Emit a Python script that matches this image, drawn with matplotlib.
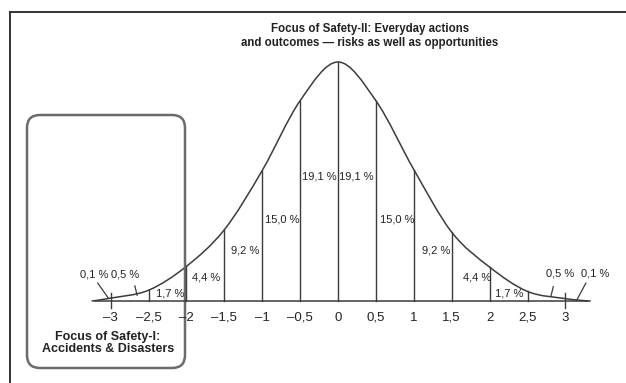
import numpy as np
import matplotlib
matplotlib.use("Agg")
import matplotlib.pyplot as plt
from matplotlib.patches import FancyBboxPatch, PathPatch
from matplotlib.path import Path
from matplotlib.transforms import Affine2D

plt.rcParams['font.family'] = ['Liberation Sans', 'DejaVu Sans']

# ---- data ----
# curve heights (relative to the peak) at these x positions
curve_x = [-3.25, -3, -2.5, -2, -1.5, -1, -0.5, 0, 0.5, 1, 1.5, 2, 2.5, 3, 3.3]
curve_h = [0.0, 0.012, 0.045, 0.145, 0.298, 0.546, 0.838, 1.0, 0.838, 0.55, 0.288, 0.142, 0.04, 0.01, 0.0]
divider_values = [-2.5, -2, -1.5, -1, -0.5, 0, 0.5, 1, 1.5, 2, 2.5]
tick_values = [-3, -2.5, -2, -1.5, -1, -0.5, 0, 0.5, 1, 1.5, 2, 2.5, 3]
tick_labels = ["–3", "–2,5", "–2", "–1,5", "–1", "–0,5", "0", "0,5", "1", "1,5", "2", "2,5", "3"]
band_labels = ["0,1 %", "0,5 %", "1,7 %", "4,4 %", "9,2 %", "15,0 %", "19,1 %",
               "19,1 %", "15,0 %", "9,2 %", "4,4 %", "1,7 %", "0,5 %", "0,1 %"]
band_label_x = [-3.21, -2.81, -2.22, -1.74, -1.23, -0.74, -0.25,
                0.24, 0.78, 1.29, 1.83, 2.26, 2.93, 3.39]
band_label_y = [0.109, 0.109, 0.033, 0.100, 0.213, 0.339, 0.523,
                0.523, 0.339, 0.213, 0.100, 0.033, 0.117, 0.117]
# leader lines for the small tail labels: (label index, from, to)
leaders = [(0, (-3.17, 0.075), (-3.03, 0.012)),
           (1, (-2.68, 0.063), (-2.65, 0.024)),
           (12, (2.84, 0.060), (2.81, 0.021)),
           (13, (3.27, 0.075), (3.15, 0.004))]
title_ii = "Focus of Safety-II: Everyday actions\nand outcomes — risks as well as opportunities"
title_i = "Focus of Safety-I:\nAccidents & Disasters"

W, H = 626, 383
fig = plt.figure(figsize=(W / 100, H / 100), dpi=100)
ax = fig.add_axes([0, 0, 1, 1])
px_x = 75.8      # pixels per x unit
px_y = 239.0     # pixels per relative height unit
x0, y0 = 338, 301
ax.set_xlim(-x0 / px_x, (W - x0) / px_x)
ax.set_ylim(-(H - y0) / px_y, y0 / px_y)
ax.axis('off')

lc = '#3c3c3c'
tc = '#222222'

# smooth curve through the read points (Catmull-Rom -> cubic Bezier)
pts = np.column_stack([curve_x, curve_h])
verts = [pts[0]]
codes = [Path.MOVETO]
n = len(pts)
for i in range(n - 1):
    p0 = pts[i - 1] if i > 0 else pts[i]
    p1 = pts[i]
    p2 = pts[i + 1]
    p3 = pts[i + 2] if i + 2 < n else pts[i + 1]
    c1 = p1 + (p2 - p0) / 6.0
    c2 = p2 - (p3 - p1) / 6.0
    verts += [c1, c2, p2]
    codes += [Path.CURVE4] * 3
ax.add_patch(PathPatch(Path(verts, codes), fill=False, edgecolor=lc, lw=1.1))

# baseline
ax.plot([curve_x[0] + 0.05, curve_x[-1] + 0.02], [0, 0], color=lc, lw=1.1)

# dividers from baseline up to the curve
hmap = dict(zip(curve_x, curve_h))
for v in divider_values:
    ax.plot([v, v], [0, hmap[v]], color=lc, lw=1.0)
for v in (-3, 3):
    ax.plot([v, v], [-0.03, 0.035], color=lc, lw=1.0)

for v, lab in zip(tick_values, tick_labels):
    ax.text(v, -0.071, lab, ha='center', va='center', fontsize=9.5, color=tc)

for lab, bx, by in zip(band_labels, band_label_x, band_label_y):
    ax.text(bx, by, lab, ha='center', va='center', fontsize=8, color=tc)
for i, a, b in leaders:
    ax.plot([a[0], b[0]], [a[1], b[1]], color=lc, lw=0.9)

# pixel-space transform (origin top-left)
pix = Affine2D().scale(1 / W, -1 / H).translate(0, 1) + fig.transFigure

ax.text(370, 36, title_ii, transform=pix, ha='center', va='center', fontsize=8.3,
        fontweight='bold', color=tc, linespacing=1.15)
ax.text(108, 343, title_i, transform=pix, ha='center', va='center', fontsize=9,
        fontweight='bold', color=tc, linespacing=1.1)

box = FancyBboxPatch((27, 115), 158, 253, boxstyle='round,pad=0,rounding_size=13',
                     transform=pix, fill=False, edgecolor='#6b6b6b', lw=1.8)
ax.add_patch(box)

# outer frame (top and left edges)
ax.plot([10, W], [12, 12], transform=pix, color='#333333', lw=1.4, clip_on=False)
ax.plot([10, 10], [12, H], transform=pix, color='#333333', lw=1.4, clip_on=False)

fig.savefig('out.png', dpi=100, facecolor='white')
